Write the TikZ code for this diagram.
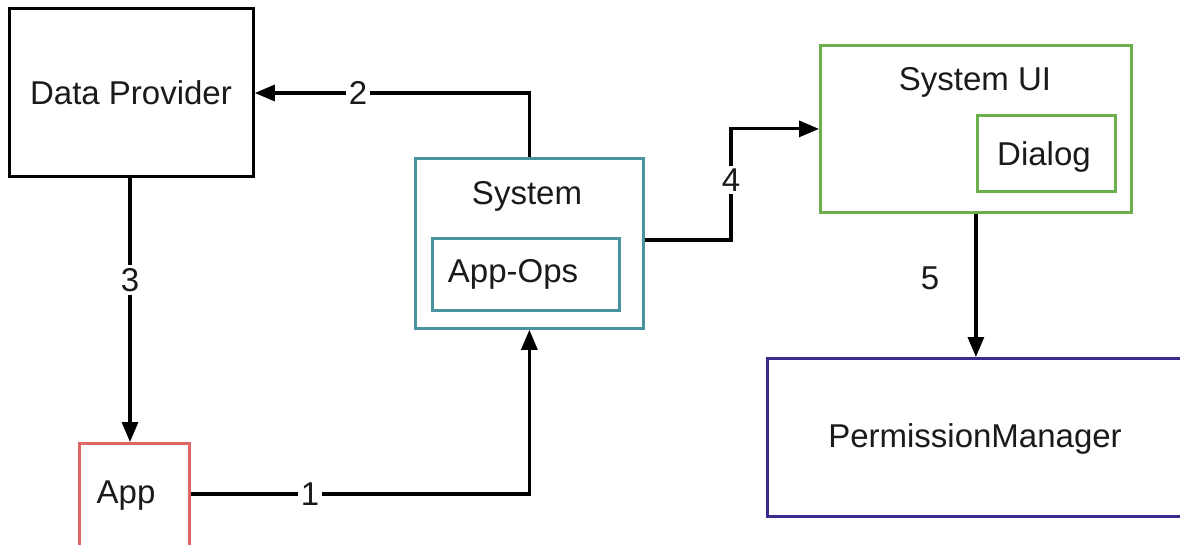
\documentclass[tikz,border=0pt]{standalone}
\usepackage{fontspec}
\setmainfont{Liberation Sans}
\usetikzlibrary{arrows.meta}
\definecolor{sysc}{HTML}{4A929F}
\definecolor{uic}{HTML}{6AAF4C}
\definecolor{appc}{HTML}{E06666}
\definecolor{pmc}{HTML}{3C2A8E}
\definecolor{txt}{HTML}{1A1A1A}
\begin{document}
\begin{tikzpicture}[x=1pt,y=-1pt,
  box/.style={draw, line width=2.8pt, inner sep=0pt, anchor=north west},
  lbl/.style={font=\fontsize{33}{38}\selectfont, inner sep=0pt, text=txt},
  num/.style={font=\fontsize{33}{38}\selectfont, inner sep=3pt, fill=white, text=txt},
  conn/.style={line width=3.2pt, -{Triangle[length=20pt,width=16pt]}}]
\useasboundingbox (0,0) rectangle (1180,545);
\clip (0,0) rectangle (1180,545);
% boxes
\node[box, minimum width=244pt, minimum height=168pt] (dp) at (8,7) {};
\node[box, draw=sysc, minimum width=228pt, minimum height=170pt] (sys) at (414,157) {};
\node[box, draw=sysc, minimum width=187pt, minimum height=72pt] (ops) at (431,237) {};
\node[box, draw=uic, minimum width=311pt, minimum height=167pt] (sui) at (819,44) {};
\node[box, draw=uic, minimum width=138pt, minimum height=76pt] (dlg) at (976,114) {};
\node[box, draw=appc, minimum width=110pt, minimum height=110pt] (app) at (78,442) {};
\node[box, draw=pmc, minimum width=418pt, minimum height=158pt] (pm) at (766,357) {};
% texts
\node[lbl] (dpt) at (131,93) {Data Provider};
\node[lbl] (syst) at (527,196) {System};
\node[lbl] (opst) at (513,274) {App-Ops};
\node[lbl] (suit) at (975,82) {System UI};
\node[lbl] (dlgt) at (1044,157) {Dialog};
\node[lbl] (appt) at (126,496) {App};
\node[lbl] (pmt) at (975,439) {PermissionManager};
% connectors
\coordinate (b4) at (731,180);
\draw[conn] (app.east |- 0,494) -| (sys.south);
\draw[conn] (sys.north) |- (dp.east |- 0,93);
\draw[conn] (dp.south -| 130,0) -- (app.north -| 130,0);
\draw[conn] (sys.east |- 0,240) -| (b4) |- (sui.west);
\draw[conn] (sui.south) -- (pm.north -| sui.south);
% numbers
\node[num] (n1) at (310,494) {1};
\node[num] (n2) at (358,93) {2};
\node[num] (n3) at (130,280) {3};
\node[num] (n4) at (731,180) {4};
\node[num] (n5) at (930,278) {5};
\end{tikzpicture}
\end{document}
